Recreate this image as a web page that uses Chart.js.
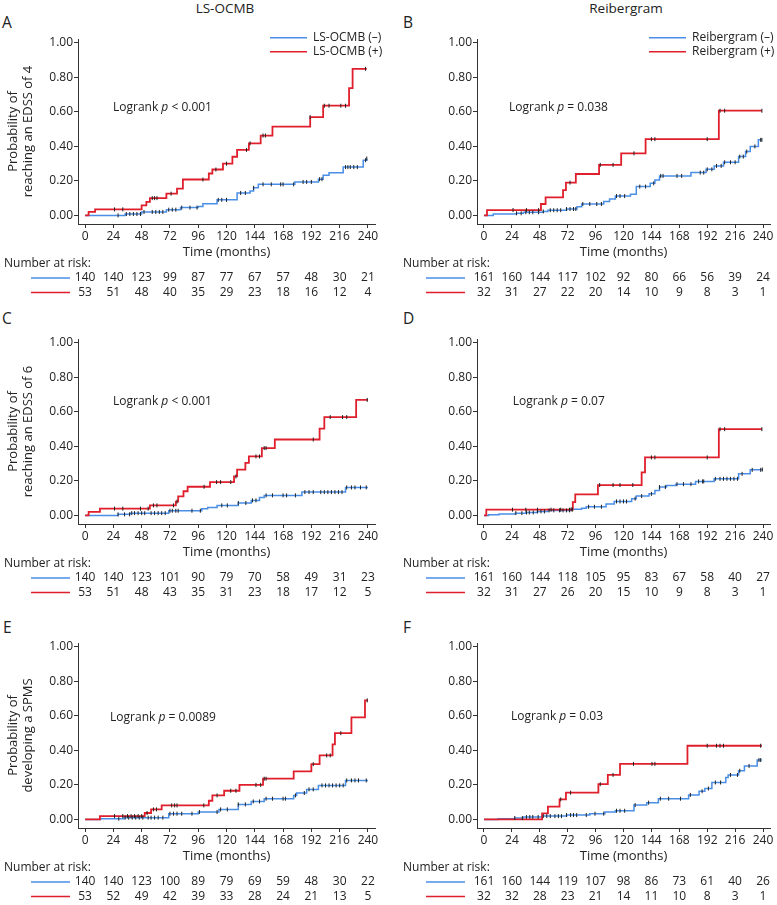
<!DOCTYPE html>
<html>
<head>
<meta charset="utf-8">
<script src="https://cdn.jsdelivr.net/npm/chart.js@4.4.1/dist/chart.umd.min.js"></script>
<style>
  body { margin: 0; background: #fff; font-family: 'Open Sans', sans-serif; color: #222; }
  #fig { position: relative; width: 777px; height: 905px; }
  #fig canvas { position: absolute; }
  .ttl { position: absolute; top: 0; font-size: 13.5px; line-height: 16px; transform: translateX(-50%); }
  .lbl { position: absolute; font-size: 15.5px; line-height: 18px; }
</style>
</head>
<body>
<div id="fig">
  <div class="ttl" style="left:225px">LS-OCMB</div>
  <div class="ttl" style="left:626px">Reibergram</div>
  <div class="lbl" style="left:2px;top:13px">A</div>
  <div class="lbl" style="left:403px;top:13px">B</div>
  <div class="lbl" style="left:2px;top:309px">C</div>
  <div class="lbl" style="left:403px;top:309px">D</div>
  <div class="lbl" style="left:3px;top:618px">E</div>
  <div class="lbl" style="left:403px;top:618px">F</div>
  <canvas id="cA" width="388" height="275" style="left:0;top:25px"></canvas>
  <canvas id="cB" width="389" height="275" style="left:388px;top:25px"></canvas>
  <canvas id="cC" width="388" height="275" style="left:0;top:325px"></canvas>
  <canvas id="cD" width="389" height="275" style="left:388px;top:325px"></canvas>
  <canvas id="cE" width="388" height="275" style="left:0;top:629px"></canvas>
  <canvas id="cF" width="389" height="275" style="left:388px;top:629px"></canvas>
</div>
<script>
const months = [0, 24, 48, 72, 96, 120, 144, 168, 192, 216, 240];
const probTicks = [0, 0.2, 0.4, 0.6, 0.8, 1.0];

// A: EDSS 4 by LS-OCMB
const aNegTime = [0, 34, 48, 69, 81, 96, 100, 112, 129, 140, 143, 147, 178, 198, 202, 207, 219, 236, 239];
const aNegProb = [0, 0.008, 0.02, 0.033, 0.045, 0.052, 0.068, 0.09, 0.13, 0.142, 0.16, 0.18, 0.194, 0.21, 0.233, 0.247, 0.28, 0.32, 0.33];
const aPosTime = [0, 3, 8.5, 48, 52, 55, 69, 78, 83, 105, 108, 117, 125, 129, 139, 149, 159, 191, 202, 224, 227, 239];
const aPosProb = [0, 0.02, 0.035, 0.058, 0.078, 0.10, 0.126, 0.155, 0.208, 0.243, 0.266, 0.30, 0.34, 0.38, 0.418, 0.463, 0.515, 0.57, 0.636, 0.738, 0.85, 0.85];
const aNegCens = [28, 35, 38, 41, 44, 47, 50, 57, 60, 63, 66, 71, 74, 77, 82, 89, 95, 113, 116, 120, 132, 136, 143, 151, 158, 166, 168, 177, 185, 188, 192, 199, 201, 221, 223, 225, 228, 231, 238, 239];
const aPosCens = [25, 32, 57, 59, 61, 73, 100, 111, 120, 137, 140, 151, 153, 191, 203, 207, 217, 221, 238];
const aNegRisk = [140, 140, 123, 99, 87, 77, 67, 57, 48, 30, 21];
const aPosRisk = [53, 51, 48, 40, 35, 29, 23, 18, 16, 12, 4];

// B: EDSS 4 by Reibergram
const bNegTime = [0, 8, 28, 34, 51, 55, 71, 80, 84, 103, 108, 113, 126, 131, 143, 147, 151, 178, 191, 198, 206, 219, 225, 229, 236, 239];
const bNegProb = [0, 0.008, 0.012, 0.018, 0.023, 0.03, 0.037, 0.05, 0.066, 0.08, 0.095, 0.112, 0.122, 0.167, 0.186, 0.205, 0.229, 0.248, 0.267, 0.287, 0.308, 0.341, 0.37, 0.40, 0.438, 0.438];
const bPosTime = [0, 2.6, 49, 53, 68, 70.5, 79, 99, 118, 139, 202, 239];
const bPosProb = [0, 0.031, 0.066, 0.105, 0.147, 0.19, 0.24, 0.293, 0.36, 0.442, 0.607, 0.607];
const bNegCens = [28, 32, 36, 39, 42, 47, 51, 57, 60, 63, 66, 71, 74, 77, 79, 85, 91, 97, 101, 114, 117, 121, 134, 139, 146, 152, 154, 166, 170, 186, 189, 192, 196, 200, 204, 207, 212, 216, 220, 223, 226, 233, 238, 239];
const bPosCens = [25, 36.5, 47, 74, 100, 111, 129, 144, 147, 192, 203, 207, 239];
const bNegRisk = [161, 160, 144, 117, 102, 92, 80, 66, 56, 39, 24];
const bPosRisk = [32, 31, 27, 22, 20, 14, 10, 9, 8, 3, 1];

// C: EDSS 6 by LS-OCMB
const cNegTime = [0, 28, 38, 71, 99, 104, 112, 130, 141, 148, 152, 184, 221, 240];
const cNegProb = [0, 0.006, 0.013, 0.027, 0.039, 0.046, 0.058, 0.072, 0.087, 0.104, 0.116, 0.135, 0.162, 0.162];
const cPosTime = [0, 3, 12.6, 55, 77, 79, 83.5, 87, 106, 126.4, 129, 136, 139, 150, 161, 199, 203, 230, 240];
const cPosProb = [0, 0.02, 0.039, 0.058, 0.08, 0.11, 0.14, 0.166, 0.193, 0.226, 0.265, 0.304, 0.342, 0.39, 0.44, 0.503, 0.57, 0.67, 0.67];
const cNegCens = [28, 33.5, 37.8, 39.6, 42, 45, 48, 50.6, 56, 59, 62, 65, 68, 72, 74, 77, 79, 90.7, 97.8, 116, 120.7, 130, 136.4, 142, 145, 153.6, 159, 168, 171, 178.5, 186.5, 190, 193.6, 200, 203, 206, 209, 212, 215, 218, 222, 226, 229, 233.7, 238.6];
const cPosCens = [25, 32, 47, 53.5, 58, 61, 75, 78, 101, 111.6, 115, 123.6, 128, 145, 148, 152, 153.6, 193.6, 208, 218.5, 222, 239.4];
const cNegRisk = [140, 140, 123, 101, 90, 79, 70, 58, 49, 31, 23];
const cPosRisk = [53, 51, 48, 43, 35, 31, 23, 18, 17, 12, 5];

// D: EDSS 6 by Reibergram
const dNegTime = [0, 4, 13, 27, 36, 46, 55, 74, 84, 88, 105, 112, 127, 131, 142, 147, 151, 157, 165, 182, 198, 219, 229, 239.4];
const dNegProb = [0, 0.004, 0.008, 0.013, 0.017, 0.023, 0.029, 0.035, 0.042, 0.05, 0.066, 0.081, 0.097, 0.112, 0.125, 0.145, 0.164, 0.174, 0.181, 0.197, 0.212, 0.241, 0.264, 0.266];
const dPosTime = [0, 2, 76.4, 78.5, 98, 135.6, 138.5, 202, 239];
const dPosProb = [0, 0.033, 0.077, 0.122, 0.176, 0.25, 0.336, 0.50, 0.50];
const dNegCens = [27.4, 32.6, 36.6, 39, 42.4, 46, 49, 52, 56, 60, 65, 68, 71, 73.6, 75, 90, 95, 101, 114, 117, 120, 122.6, 130, 135.6, 144, 151, 156, 166, 171.6, 178, 184.6, 188, 189, 199, 203, 206, 209, 212, 215, 218, 222, 230.7, 238, 239.4];
const dPosCens = [24.5, 36, 46, 57.7, 66, 73.5, 76, 99.5, 111, 117, 128, 144, 147, 192, 203, 207, 239];
const dNegRisk = [161, 160, 144, 118, 105, 95, 83, 67, 58, 40, 27];
const dPosRisk = [32, 31, 27, 26, 20, 15, 10, 9, 8, 3, 1];

// E: SPMS by LS-OCMB
const eNegTime = [0, 13, 33, 71, 96, 113.6, 130, 141, 152, 177, 179.5, 188, 198, 221, 240];
const eNegProb = [0, 0.004, 0.01, 0.033, 0.043, 0.058, 0.087, 0.104, 0.12, 0.139, 0.153, 0.174, 0.197, 0.226, 0.226];
const ePosTime = [0, 12.6, 50.6, 56, 65, 105, 108, 118, 131, 151, 177, 192, 199, 210, 212, 226, 237.5, 240];
const ePosProb = [0, 0.019, 0.037, 0.058, 0.081, 0.108, 0.139, 0.166, 0.20, 0.236, 0.278, 0.32, 0.371, 0.435, 0.50, 0.592, 0.69, 0.69];
const eNegCens = [28.6, 34, 37, 40, 43, 46, 49, 53.5, 56, 59, 62, 66, 72, 75, 78, 82, 90.7, 97, 112, 115, 120.7, 130, 136, 142.7, 148, 153.6, 159, 168, 170, 178.5, 186, 190, 193.6, 201, 204, 207, 210, 213, 216, 219, 222, 226, 229, 232, 238.6];
const ePosCens = [25, 32, 36, 39, 42, 45, 48, 52.6, 58, 60.6, 73.5, 76, 78, 100.7, 112, 123.6, 128, 145, 149, 152, 153.6, 193.6, 205, 208, 217, 239.4];
const eNegRisk = [140, 140, 123, 100, 89, 79, 69, 59, 48, 30, 22];
const ePosRisk = [53, 52, 49, 42, 39, 33, 28, 24, 21, 13, 5];

// F: SPMS by Reibergram
const fNegTime = [0, 12, 26.5, 34, 50, 71, 91, 104, 113, 129, 140, 150, 176, 185, 190, 196, 208, 210, 219, 224, 235, 239];
const fNegProb = [0, 0.004, 0.008, 0.014, 0.019, 0.025, 0.033, 0.043, 0.05, 0.083, 0.097, 0.12, 0.142, 0.163, 0.179, 0.214, 0.243, 0.258, 0.282, 0.31, 0.344, 0.344];
const fPosTime = [0, 50, 55, 65, 70.5, 98.4, 106.5, 117, 175, 239];
const fPosProb = [0, 0.035, 0.074, 0.116, 0.155, 0.204, 0.258, 0.322, 0.427, 0.427];
const fNegCens = [26.5, 33, 36.5, 39.4, 42, 46.6, 51, 54, 57, 61, 64, 66.7, 71, 74.5, 77, 79.7, 88, 95.5, 103, 114, 117, 121, 130, 141.6, 151.7, 158.8, 169, 177.5, 187.6, 193, 199, 203.5, 212, 218, 220, 228, 236.5, 238];
const fPosCens = [66, 74.5, 100, 111, 128.6, 144.5, 147, 192, 200, 203, 206, 238];
const fNegRisk = [161, 160, 144, 119, 107, 98, 86, 73, 61, 40, 26];
const fPosRisk = [32, 32, 28, 23, 21, 14, 11, 10, 8, 3, 1];

const BLUE = '#4a8ee6';
const RED = '#e01f2d';
const INK = '#222';
const FONT = "'Open Sans', sans-serif";

const panels = [
  { id: 'cA', left: true, nt: aNegTime, np: aNegProb, pt: aPosTime, pp: aPosProb, nc: aNegCens, pc: aPosCens, nr: aNegRisk, pr: aPosRisk,
    pText: ' < 0.001', pAt: [23.7, 0.623], yTitle: ['Probability of', 'reaching an EDSS of 4'], legend: ['LS-OCMB (–)', 'LS-OCMB (+)'] },
  { id: 'cB', left: false, nt: bNegTime, np: bNegProb, pt: bPosTime, pp: bPosProb, nc: bNegCens, pc: bPosCens, nr: bNegRisk, pr: bPosRisk,
    pText: ' = 0.038', pAt: [21.5, 0.623], legend: ['Reibergram (–)', 'Reibergram (+)'] },
  { id: 'cC', left: true, nt: cNegTime, np: cNegProb, pt: cPosTime, pp: cPosProb, nc: cNegCens, pc: cPosCens, nr: cNegRisk, pr: cPosRisk,
    pText: ' < 0.001', pAt: [23.7, 0.66], yTitle: ['Probability of', 'reaching an EDSS of 6'] },
  { id: 'cD', left: false, nt: dNegTime, np: dNegProb, pt: dPosTime, pp: dPosProb, nc: dNegCens, pc: dPosCens, nr: dNegRisk, pr: dPosRisk,
    pText: ' = 0.07', pAt: [24.7, 0.66] },
  { id: 'cE', left: true, nt: eNegTime, np: eNegProb, pt: ePosTime, pp: ePosProb, nc: eNegCens, pc: ePosCens, nr: eNegRisk, pr: ePosRisk,
    pText: ' = 0.0089', pAt: [21.2, 0.592], yTitle: ['Probability of', 'developing a SPMS'] },
  { id: 'cF', left: false, nt: fNegTime, np: fNegProb, pt: fPosTime, pp: fPosProb, nc: fNegCens, pc: fPosCens, nr: fNegRisk, pr: fPosRisk,
    pText: ' = 0.03', pAt: [23.2, 0.595] }
];

function toXY(times, probs) {
  return times.map((t, i) => ({ x: t, y: probs[i] }));
}

// censor marks sit on the curve: look up the step value at each censor time
function censXY(cens, times, probs) {
  return cens.map(t => {
    let v = probs[0];
    for (let i = 0; i < times.length; i++) if (times[i] <= t) v = probs[i];
    return { x: t, y: v };
  });
}

const extras = {
  id: 'extras',
  afterDraw(chart, args, p) {
    const ctx = chart.ctx;
    const xs = chart.scales.x, ys = chart.scales.y;
    const base = chart.chartArea.bottom;
    ctx.save();
    ctx.fillStyle = INK;
    ctx.textBaseline = 'middle';

    // logrank text
    let x = xs.getPixelForValue(p.pAt[0]);
    const y = ys.getPixelForValue(p.pAt[1]);
    ctx.textAlign = 'left';
    ctx.font = '12px ' + FONT;
    ctx.fillText('Logrank ', x, y);
    x += ctx.measureText('Logrank ').width;
    ctx.font = 'italic 12px ' + FONT;
    ctx.fillText('p', x, y);
    x += ctx.measureText('p').width;
    ctx.font = '12px ' + FONT;
    ctx.fillText(p.pText, x, y);

    // legend (top row only)
    if (p.legend) {
      const lx = p.left ? 270 : 261;
      [[BLUE, p.legend[0], 12.7], [RED, p.legend[1], 26.7]].forEach(([c, txt, ly]) => {
        ctx.strokeStyle = c;
        ctx.lineWidth = 1.5;
        ctx.beginPath(); ctx.moveTo(lx, ly); ctx.lineTo(lx + 37, ly); ctx.stroke();
        ctx.fillText(txt, lx + 43, ly);
      });
    }

    // number at risk table
    const nx = p.left ? 4 : 15;
    const sx = p.left ? 31 : 38;
    ctx.textAlign = 'left';
    ctx.fillText('Number at risk:', nx, base + 40);
    [[BLUE, p.nr, 54], [RED, p.pr, 68.5]].forEach(([c, arr, dy]) => {
      ctx.strokeStyle = c;
      ctx.lineWidth = 1.5;
      ctx.beginPath(); ctx.moveTo(sx, base + dy); ctx.lineTo(sx + 39, base + dy); ctx.stroke();
      ctx.textAlign = 'center';
      arr.forEach((n, i) => ctx.fillText(String(n), xs.getPixelForValue(months[i]), base + dy));
    });
    ctx.restore();
  }
};

function makePanel(p) {
  new Chart(document.getElementById(p.id), {
    type: 'line',
    data: {
      datasets: [
        { type: 'scatter', data: censXY(p.nc, p.nt, p.np).concat(censXY(p.pc, p.pt, p.pp)),
          pointStyle: 'line', rotation: 90, pointRadius: 2, borderColor: INK, borderWidth: 1, showLine: false },
        { data: toXY(p.pt, p.pp), borderColor: RED, borderWidth: 1.8, stepped: 'before', pointRadius: 0, fill: false },
        { data: toXY(p.nt, p.np), borderColor: BLUE, borderWidth: 1.5, stepped: 'before', pointRadius: 0, fill: false }
      ]
    },
    options: {
      responsive: false,
      animation: false,
      devicePixelRatio: 1,
      layout: { padding: { top: 14, right: p.left ? 13 : 7, bottom: 42, left: 0 } },
      plugins: { legend: { display: false }, tooltip: { enabled: false }, extras: p },
      scales: {
        x: {
          type: 'linear', min: -6, max: 246,
          afterBuildTicks: s => { s.ticks = months.map(v => ({ value: v })); },
          afterFit: s => { s.height = 34; },
          ticks: { font: { size: 12, family: FONT }, color: INK, padding: 1, maxRotation: 0, autoSkip: false },
          grid: { drawOnChartArea: false, tickLength: 4, color: '#333' },
          border: { color: '#333' },
          title: { display: true, text: 'Time (months)', font: { size: 13, family: FONT, lineHeight: 1 }, color: INK, padding: { top: 0, bottom: -1 } }
        },
        y: {
          min: -0.05, max: 1.023,
          afterBuildTicks: s => { s.ticks = probTicks.map(v => ({ value: v })); },
          afterFit: s => { s.width = p.left ? 78 : 89; },
          ticks: { font: { size: 12, family: FONT }, color: INK, padding: 1, callback: v => v.toFixed(2) },
          grid: { drawOnChartArea: false, tickLength: 4, color: '#333' },
          border: { color: '#333' },
          title: { display: !!p.yTitle, text: p.yTitle || '', font: { size: 13, family: FONT }, color: INK, padding: { top: 5, bottom: 0 } }
        }
      }
    },
    plugins: [extras]
  });
}

panels.forEach(makePanel);
</script>
</body>
</html>
